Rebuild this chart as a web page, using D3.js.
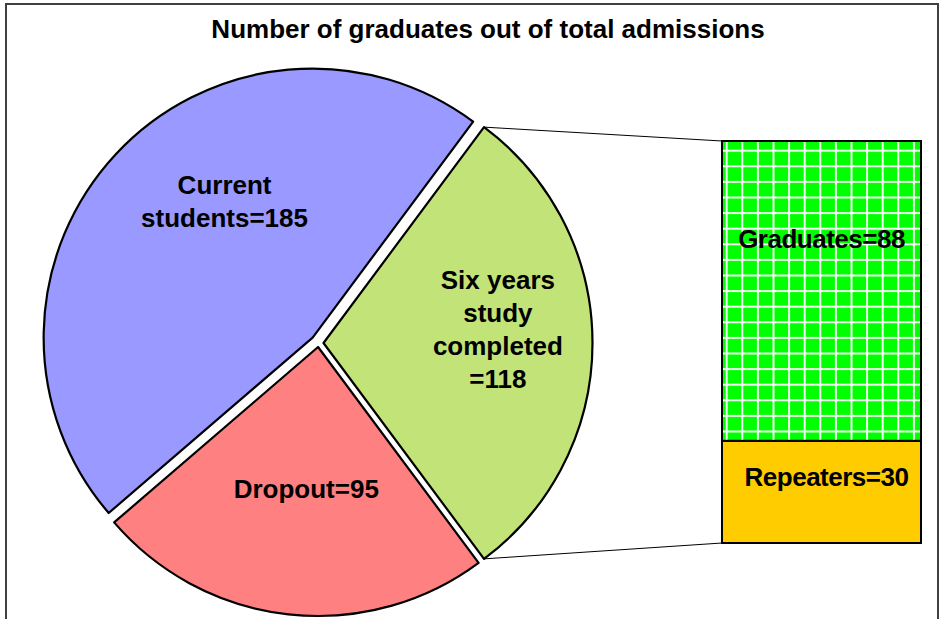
<!DOCTYPE html>
<html>
<head>
<meta charset="utf-8">
<script src="https://cdn.jsdelivr.net/npm/d3@7"></script>
<style>
  body { margin: 0; background: #fff; }
  svg { display: block; }
  text { font-family: "Liberation Sans", Arial, sans-serif; font-weight: bold; fill: #000; }
</style>
</head>
<body>
<svg id="chart" width="949" height="619"></svg>
<script>
// pie slices, clockwise from the "other" slice on the right
var pieNames = ["Six years study completed", "Dropout", "Current students"];
var pieValues = [118, 95, 185];
var pieLines = [["Six years", "study", "completed", "=118"], ["Dropout=95"], ["Current", "students=185"]];

// the bar that splits the "other" slice, bottom to top
var barNames = ["Repeaters", "Graduates"];
var barValues = [30, 88];

var title = "Number of graduates out of total admissions";

var svg = d3.select("#chart");

var cx = 318.5, cy = 343, r = 269;
var explode = [5, 4, 8];
var labelNudge = [{dx: 13, dy: -14}, {dx: 6, dy: -18}, {dx: 30, dy: -26}];
var fills = ["url(#hatch)", "#FF8080", "#9999FF"];

var defs = svg.append("defs");

// fine checker fill of the exploded slice
var hatch = defs.append("pattern")
    .attr("id", "hatch")
    .attr("patternUnits", "userSpaceOnUse")
    .attr("width", 2).attr("height", 2);
hatch.append("rect").attr("width", 2).attr("height", 2).attr("fill", "#def1a4");
hatch.append("rect").attr("width", 1).attr("height", 1).attr("fill", "#a6d44a");
hatch.append("rect").attr("x", 1).attr("y", 1).attr("width", 1).attr("height", 1).attr("fill", "#a6d44a");

// green with white grid
var cell = 15.6;
var grid = defs.append("pattern")
    .attr("id", "grid")
    .attr("patternUnits", "userSpaceOnUse")
    .attr("x", 725.7).attr("y", 149.7)
    .attr("width", cell).attr("height", cell);
grid.append("rect").attr("width", cell).attr("height", cell).attr("fill", "#00FF00");
grid.append("rect").attr("width", 2).attr("height", cell).attr("fill", "#f4fff4");
grid.append("rect").attr("width", cell).attr("height", 2).attr("fill", "#f4fff4");

// frame
svg.append("rect")
    .attr("x", 6).attr("y", 4)
    .attr("width", 932).attr("height", 660)
    .attr("fill", "none")
    .attr("stroke", "#404040")
    .attr("stroke-width", 2);

svg.append("text")
    .attr("x", 488).attr("y", 38)
    .attr("text-anchor", "middle")
    .style("font-size", "26px")
    .text(title);

var total = d3.sum(pieValues);
var a0 = Math.PI / 2 - Math.PI * pieValues[0] / total;

var pie = d3.pie().sort(null).startAngle(a0).endAngle(a0 + 2 * Math.PI);
var arcs = pie(pieValues);

var arc = d3.arc().innerRadius(0).outerRadius(r);
var labelArc = d3.arc().innerRadius(r * 0.6).outerRadius(r * 0.6);

var offset = function(d, i) {
  var mid = (d.startAngle + d.endAngle) / 2;
  return [cx + explode[i] * Math.sin(mid), cy - explode[i] * Math.cos(mid)];
};

var slices = svg.append("g").selectAll("g")
    .data(arcs)
  .enter().append("g")
    .attr("transform", function(d, i) { return "translate(" + offset(d, i) + ")"; });

slices.append("path")
    .attr("d", arc)
    .attr("fill", function(d, i) { return fills[i]; })
    .attr("stroke", "#000")
    .attr("stroke-width", 2.2)
    .attr("stroke-linejoin", "round");

slices.each(function(d, i) {
  var c = labelArc.centroid(d);
  var lines = pieLines[i];
  var lh = 33;
  var t = d3.select(this).append("text")
      .attr("text-anchor", "middle")
      .style("font-size", "26px");
  lines.forEach(function(s, k) {
    t.append("tspan")
      .attr("x", c[0] + labelNudge[i].dx)
      .attr("y", c[1] + labelNudge[i].dy + 9 + (k - (lines.length - 1) / 2) * lh)
      .text(s);
  });
});

// bar of the split slice
var barX = 722, barW = 199;
var y = d3.scaleLinear().domain([0, pieValues[0]]).range([543, 141]);
var stacked = [];
var acc = 0;
barValues.forEach(function(v, i) {
  stacked.push({name: barNames[i], value: v, y0: acc, y1: acc + v});
  acc += v;
});
var barFills = ["#FFCC00", "url(#grid)"];

var bars = svg.append("g");
bars.selectAll("rect")
    .data(stacked)
  .enter().append("rect")
    .attr("x", barX)
    .attr("y", function(d) { return y(d.y1); })
    .attr("width", barW)
    .attr("height", function(d) { return y(d.y0) - y(d.y1); })
    .attr("fill", function(d, i) { return barFills[i]; })
    .attr("stroke", "#000")
    .attr("stroke-width", 2);

bars.selectAll("text")
    .data(stacked)
  .enter().append("text")
    .attr("x", function(d, i) { return barX + barW / 2 + (i === 0 ? 5 : 0); })
    .attr("y", function(d, i) { return (y(d.y0) + y(d.y1)) / 2 + (i === 0 ? -6 : -43); })
    .attr("text-anchor", "middle")
    .style("font-size", "26px")
    .style("letter-spacing", "-0.5px")
    .text(function(d) { return d.name + "=" + d.value; });

// connector lines from the split slice to the bar
var g0 = arcs[0], o = offset(g0, 0);
var pts = [
  [[o[0] + r * Math.sin(g0.startAngle), o[1] - r * Math.cos(g0.startAngle)], [barX, y(acc)]],
  [[o[0] + r * Math.sin(g0.endAngle), o[1] - r * Math.cos(g0.endAngle)], [barX, y(0)]]
];
svg.append("g").selectAll("line")
    .data(pts)
  .enter().append("line")
    .attr("x1", function(d) { return d[0][0]; })
    .attr("y1", function(d) { return d[0][1]; })
    .attr("x2", function(d) { return d[1][0]; })
    .attr("y2", function(d) { return d[1][1]; })
    .attr("stroke", "#000")
    .attr("stroke-width", 1);
</script>
</body>
</html>
